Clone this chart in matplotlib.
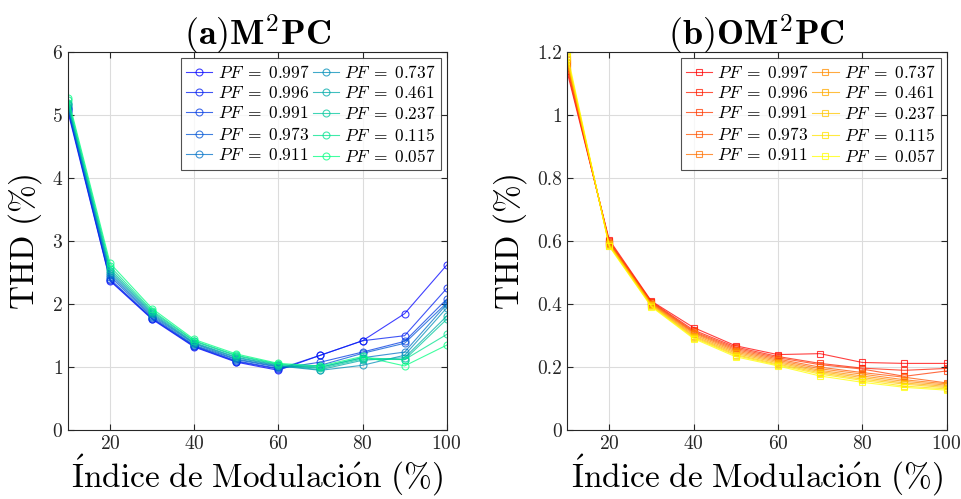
import numpy as np
import matplotlib
matplotlib.use('Agg')
import matplotlib.pyplot as plt

plt.rcParams['font.family'] = 'serif'
plt.rcParams['font.serif'] = ['cmr10', 'DejaVu Serif']
plt.rcParams['mathtext.fontset'] = 'cm'
plt.rcParams['axes.formatter.use_mathtext'] = True

# Índice de modulación (%)
indice = [10, 20, 30, 40, 50, 60, 70, 80, 90, 100]
pf = ['0.997', '0.996', '0.991', '0.973', '0.911', '0.737', '0.461', '0.237', '0.115', '0.057']

# THD (%) para M2PC, una fila por factor de potencia
thd_m2pc = [
    [5.05, 2.37, 1.76, 1.32, 1.08, 0.95, 1.19, 1.42, 1.85, 2.62],
    [5.08, 2.38, 1.77, 1.33, 1.09, 0.97, 1.19, 1.42, 1.50, 2.25],
    [5.10, 2.40, 1.78, 1.34, 1.10, 0.98, 1.08, 1.24, 1.41, 2.08],
    [5.12, 2.44, 1.80, 1.35, 1.12, 1.00, 1.03, 1.22, 1.38, 2.02],
    [5.14, 2.47, 1.82, 1.37, 1.13, 1.01, 1.00, 1.15, 1.24, 2.00],
    [5.16, 2.50, 1.84, 1.38, 1.15, 1.02, 0.95, 1.03, 1.19, 1.94],
    [5.18, 2.53, 1.86, 1.39, 1.16, 1.03, 0.96, 1.11, 1.15, 1.81],
    [5.20, 2.56, 1.88, 1.41, 1.18, 1.04, 0.98, 1.13, 1.12, 1.76],
    [5.24, 2.60, 1.90, 1.42, 1.19, 1.05, 1.00, 1.15, 1.12, 1.52],
    [5.28, 2.65, 1.93, 1.44, 1.21, 1.06, 1.02, 1.17, 1.02, 1.35],
]

# THD (%) para OM2PC
thd_om2pc = [
    [1.140, 0.605, 0.410, 0.326, 0.268, 0.240, 0.243, 0.215, 0.212, 0.212],
    [1.150, 0.600, 0.408, 0.318, 0.264, 0.234, 0.212, 0.197, 0.190, 0.196],
    [1.160, 0.598, 0.406, 0.314, 0.260, 0.230, 0.208, 0.194, 0.171, 0.188],
    [1.165, 0.596, 0.404, 0.311, 0.256, 0.226, 0.200, 0.183, 0.168, 0.150],
    [1.170, 0.594, 0.402, 0.308, 0.252, 0.222, 0.195, 0.178, 0.160, 0.147],
    [1.175, 0.592, 0.400, 0.304, 0.248, 0.218, 0.190, 0.172, 0.155, 0.143],
    [1.180, 0.590, 0.398, 0.300, 0.244, 0.214, 0.186, 0.167, 0.150, 0.139],
    [1.185, 0.588, 0.396, 0.297, 0.240, 0.210, 0.182, 0.162, 0.146, 0.135],
    [1.190, 0.586, 0.394, 0.294, 0.237, 0.207, 0.178, 0.158, 0.140, 0.131],
    [1.200, 0.584, 0.392, 0.291, 0.233, 0.204, 0.172, 0.152, 0.136, 0.127],
]

fig = plt.figure(figsize=(9.61, 4.99), dpi=100)
ax1 = fig.add_axes([0.0708, 0.138, 0.394, 0.757])
ax2 = fig.add_axes([0.590, 0.138, 0.395, 0.757])


def dibujar(ax, datos, cmap, marcador, ms, titulo, ylim, yticks):
    colores = cmap(np.linspace(0, 1, len(pf)))
    for i, fila in enumerate(datos):
        ax.plot(indice, fila, marker=marcador, markersize=ms, markerfacecolor='none',
                color=colores[i], lw=0.8, mew=0.8, alpha=0.75,
                label=r'$PF\;=\;' + pf[i] + '$')
    ax.set_xlim(10, 100)
    ax.set_ylim(*ylim)
    ax.set_xticks([20, 40, 60, 80, 100])
    ax.set_yticks(yticks)
    ax.grid(True, color='#dcdcdc', lw=0.8)
    ax.set_axisbelow(True)
    ax.tick_params(direction='in', top=True, right=True, labelsize=14,
                   colors='#262626', length=4)
    for s in ax.spines.values():
        s.set_color('#262626')
        s.set_linewidth(0.8)
    ax.set_title(titulo, fontsize=26, pad=5)
    ax.set_xlabel(r'$\mathrm{\acute{I}ndice\ de\ Modulaci\acute{o}n\ (\%)}$', fontsize=24, labelpad=0)
    ax.set_ylabel(r'$\mathrm{THD\ (\%)}$', fontsize=24, labelpad=6)
    leg = ax.legend(ncol=2, loc='upper right', fontsize=12.5, fancybox=False,
                    handlelength=1.5, handletextpad=0.3, columnspacing=0.2,
                    labelspacing=0.25, borderpad=0.3, borderaxespad=0.35)
    leg.get_frame().set_edgecolor('#262626')
    leg.get_frame().set_linewidth(0.8)


dibujar(ax1, thd_m2pc, plt.cm.winter, 'o', 5, r'$\mathbf{(a)M}^{\mathbf{2}}\mathbf{PC}$',
        (0, 6), range(0, 7))
dibujar(ax2, thd_om2pc, plt.cm.autumn, 's', 4, r'$\mathbf{(b)OM}^{\mathbf{2}}\mathbf{PC}$',
        (0, 1.2), [0, 0.2, 0.4, 0.6, 0.8, 1, 1.2])
ax2.set_yticklabels(['0', '0.2', '0.4', '0.6', '0.8', '1', '1.2'])

fig.savefig('out.png', dpi=100)
